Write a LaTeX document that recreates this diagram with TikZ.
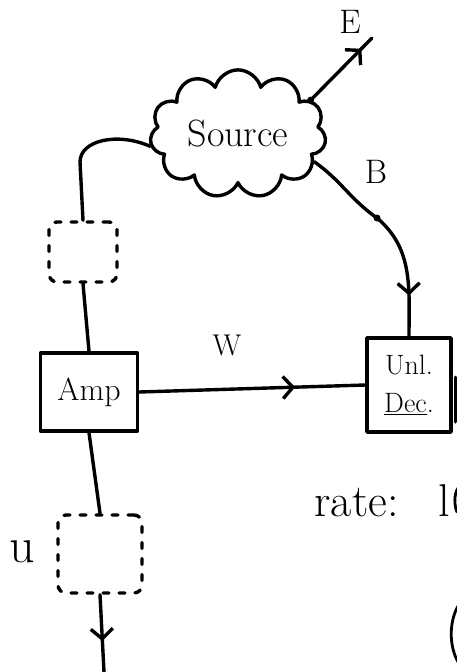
\documentclass[tikz,border=0pt]{standalone}
\usepackage{fontspec}
\usetikzlibrary{shapes.symbols,decorations.markings,arrows.meta}
\begin{document}
\begin{tikzpicture}[x=1pt,y=-1pt,line width=3.4pt,line cap=round,line join=round,
  box/.style={draw,inner sep=0pt,font=\fontsize{32}{34}\selectfont},
  ghost/.style={draw,dash pattern=on 6pt off 10pt,rounded corners=8pt},
  lbl/.style={font=\fontsize{34}{34}\selectfont,inner sep=0pt},
  midarrow/.style={postaction={decorate},decoration={markings,
    mark=at position #1 with {\arrow{Straight Barb[length=10pt,width=22pt]}}}}]
\useasboundingbox (0,0) rectangle (457,672);
\clip (0,0) rectangle (457,672);

% source cloud
\node[cloud,cloud puffs=11,draw,aspect=1.4,inner sep=0pt,
      minimum width=176pt,minimum height=126pt,
      font=\fontsize{38}{38}\selectfont] (src) at (238,134) {Source};

% blocks
\node[ghost,minimum width=68pt,minimum height=60pt] (d1) at (83,252) {};
\node[box,minimum width=97pt,minimum height=78pt] (amp) at (89,392) {Amp};
\node[ghost,minimum width=84pt,minimum height=78pt] (d2) at (100,554) {};
\node[box,minimum width=84pt,minimum height=94pt,align=center,
      font=\fontsize{28}{38}\selectfont] (dec) at (409,385) {Unl.\\\underline{Dec}.};

% free ends and bends
\coordinate (lk) at (80,162);
\coordinate (eend) at (372,38);
\coordinate (bk) at (377,218);
\coordinate (uend) at (104,672);

% connectors
\draw (src.188) .. controls (118,132) and (80,140) .. (lk) -- (d1.north);
\draw (d1.south) -- (amp.north);
\draw (amp.south) -- (d2.north);
\draw[midarrow=0.6] (d2.south) -- (uend);
\draw[midarrow=0.69] (amp.east) -- (dec.west);
\draw[midarrow=0.83] (src.25) -- (eend);
\draw (src.-20) to[out=-35,in=145] (bk);
\draw[midarrow=0.68] (bk) to[out=-40,in=90] (dec.north);
\fill (src.25) circle (3.5pt);
\fill (bk) circle (3.5pt);

% labels
\node[lbl] (le) at (350,22) {E};
\node[lbl] (lb) at (376,172) {B};
\node[lbl,font=\fontsize{30}{30}\selectfont] (lw) at (227,345) {W};
\node[lbl,font=\fontsize{50}{50}\selectfont] (lu) at (22,552) {u};
\node[lbl,anchor=base west,font=\fontsize{46}{46}\selectfont] (rate) at (313,516) {rate:\hspace{40pt}l};

% strokes cut by the page border on the right
\draw[line width=3pt] (455,377) -- (455,422);
\draw[line width=2.8pt] (458,488) .. controls (454,494) and (454,505) .. (457,512);
\draw[line width=2.8pt] (458,606) .. controls (449,622) and (449,646) .. (458,662);
\end{tikzpicture}
\end{document}
